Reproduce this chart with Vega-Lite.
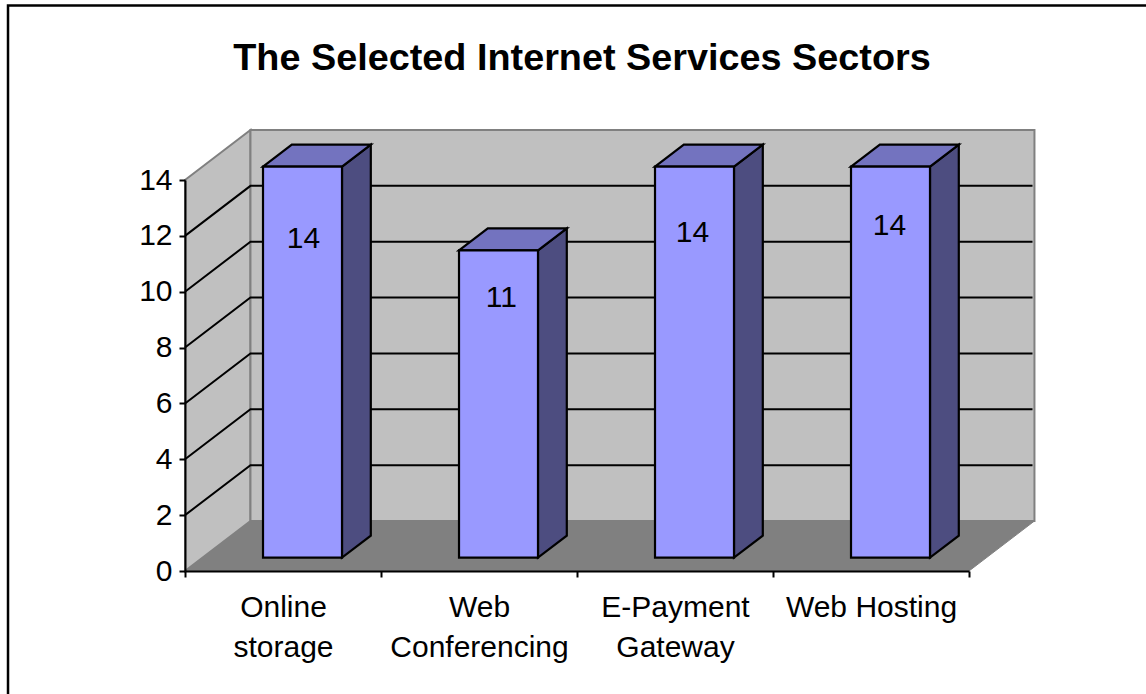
{
  "$schema": "https://vega.github.io/schema/vega-lite/v6.json",
  "width": 784,
  "height": 391,
  "autosize": "none",
  "padding": {"left": 185, "top": 180, "right": 177, "bottom": 123},
  "background": "white",
  "title": {
    "text": "The Selected Internet Services Sectors",
    "frame": "group",
    "anchor": "middle",
    "dx": 5,
    "offset": 0,
    "dy": 104,
    "baseline": "alphabetic",
    "font": "Liberation Sans",
    "fontWeight": "bold",
    "fontSize": 37.8,
    "color": "black"
  },
  "config": {"view": {"stroke": null}, "font": "Liberation Sans"},
  "params": [
    {"name": "depthX", "value": 0.334},
    {"name": "depthY", "value": 1.79},
    {"name": "barNear", "value": 0.268},
    {"name": "barFar", "value": 0.708},
    {"name": "barLeft", "value": 0.3085},
    {"name": "barWidth", "value": 0.403}
  ],
  "datasets": {
    "sectors": [
      {"sector": "Online storage", "value": 14},
      {"sector": "Web Conferencing", "value": 11},
      {"sector": "E-Payment Gateway", "value": 14},
      {"sector": "Web Hosting", "value": 14}
    ],
    "gridTicks": [{"tick": 2}, {"tick": 4}, {"tick": 6}, {"tick": 8}, {"tick": 10}, {"tick": 12}],
    "corners": [{"corner": 0}, {"corner": 1}, {"corner": 2}, {"corner": 3}],
    "edges": [{"depth": 0}, {"depth": 1}]
  },
  "encoding": {
    "x": {
      "type": "quantitative",
      "scale": {"domain": [0, 4], "nice": false, "zero": false},
      "axis": {
        "title": null,
        "orient": "bottom",
        "values": [0, 0.5, 1, 1.5, 2, 2.5, 3, 3.5, 4],
        "grid": false,
        "zindex": 1,
        "domainColor": "black",
        "domainWidth": 2,
        "tickColor": "black",
        "tickWidth": 2,
        "tickSize": {"condition": {"test": "datum.value % 1 === 0", "value": 6}, "value": 0},
        "labelExpr": "datum.value === 0.5 ? ['Online', 'storage'] : datum.value === 1.5 ? ['Web', 'Conferencing'] : datum.value === 2.5 ? ['E-Payment', 'Gateway'] : datum.value === 3.5 ? 'Web Hosting' : ''",
        "labelFont": "Liberation Sans",
        "labelFontSize": 30,
        "labelColor": "black",
        "labelPadding": 21,
        "labelLineHeight": 40,
        "labelOverlap": false,
        "labelBound": false,
        "labelFlush": false
      }
    },
    "y": {
      "type": "quantitative",
      "scale": {"domain": [0, 14], "nice": false, "zero": false},
      "stack": null,
      "axis": {
        "title": null,
        "orient": "left",
        "values": [0, 2, 4, 6, 8, 10, 12, 14],
        "grid": false,
        "zindex": 1,
        "domainColor": "black",
        "domainWidth": 2,
        "tickColor": "black",
        "tickWidth": 2,
        "tickSize": 6,
        "labelFont": "Liberation Sans",
        "labelFontSize": 30,
        "labelColor": "black",
        "labelPadding": 7,
        "labelOverlap": false,
        "labelBound": false,
        "labelFlush": false
      }
    }
  },
  "layer": [
    {
      "description": "Chart-area outline",
      "data": {"values": [{"side": "left"}]},
      "mark": {"type": "rect", "fill": null, "stroke": "black", "strokeWidth": 2.5, "clip": false},
      "encoding": {
        "x": {"datum": -0.903},
        "x2": {"datum": 5.1},
        "y": {"datum": 20.25},
        "y2": {"datum": -6}
      }
    },
    {
      "description": "Floor",
      "data": {"name": "corners"},
      "transform": [
        {"calculate": "[0, depthX, 4, 4 + depthX][datum.corner]", "as": "px"},
        {"calculate": "datum.corner === 0 ? 0 : depthY", "as": "top"},
        {"calculate": "datum.corner === 3 ? depthY : 0", "as": "bottom"}
      ],
      "mark": {"type": "area", "orient": "vertical", "fill": "#808080", "stroke": "#808080", "strokeWidth": 1},
      "encoding": {
        "x": {"field": "px", "type": "quantitative"},
        "y": {"field": "top", "type": "quantitative"},
        "y2": {"field": "bottom"}
      }
    },
    {
      "description": "Left wall",
      "data": {"name": "edges"},
      "transform": [
        {"calculate": "datum.depth * depthX", "as": "px"},
        {"calculate": "datum.depth * depthY", "as": "bottom"},
        {"calculate": "14 + datum.depth * depthY", "as": "top"}
      ],
      "mark": {"type": "area", "orient": "vertical", "fill": "#c0c0c0", "stroke": "#808080", "strokeWidth": 2},
      "encoding": {
        "x": {"field": "px", "type": "quantitative"},
        "y": {"field": "top", "type": "quantitative"},
        "y2": {"field": "bottom"}
      }
    },
    {
      "description": "Back wall",
      "data": {"name": "edges"},
      "transform": [
        {"calculate": "datum.depth * 4 + depthX", "as": "px"},
        {"calculate": "depthY", "as": "bottom"},
        {"calculate": "14 + depthY", "as": "top"}
      ],
      "mark": {"type": "area", "orient": "vertical", "fill": "#c0c0c0", "stroke": "#808080", "strokeWidth": 2},
      "encoding": {
        "x": {"field": "px", "type": "quantitative"},
        "y": {"field": "top", "type": "quantitative"},
        "y2": {"field": "bottom"}
      }
    },
    {
      "description": "Gridlines running across the left and back walls",
      "data": {"name": "gridTicks"},
      "transform": [
        {"calculate": "[0, 1, 2]", "as": "bend"},
        {"flatten": ["bend"]},
        {"calculate": "[0, depthX, 4 + depthX - 0.01][datum.bend]", "as": "px"},
        {"calculate": "datum.tick + (datum.bend === 0 ? 0 : depthY)", "as": "py"}
      ],
      "mark": {"type": "line", "stroke": "black", "strokeWidth": 2},
      "encoding": {
        "x": {"field": "px", "type": "quantitative"},
        "y": {"field": "py", "type": "quantitative"},
        "detail": {"field": "tick"}
      }
    },
    {
      "description": "Bar side faces",
      "data": {"name": "sectors"},
      "transform": [
        {"window": [{"op": "row_number", "as": "rank"}]},
        {"calculate": "[barNear, barFar]", "as": "depth"},
        {"flatten": ["depth"]},
        {"calculate": "datum.rank - 1 + barLeft + barWidth + datum.depth * depthX", "as": "px"},
        {"calculate": "datum.value + datum.depth * depthY", "as": "top"},
        {"calculate": "datum.depth * depthY", "as": "bottom"}
      ],
      "mark": {"type": "area", "orient": "vertical", "fill": "#4d4d80", "stroke": "black", "strokeWidth": 2.2, "strokeJoin": "miter"},
      "encoding": {
        "x": {"field": "px", "type": "quantitative"},
        "y": {"field": "top", "type": "quantitative"},
        "y2": {"field": "bottom"},
        "detail": {"field": "sector"}
      }
    },
    {
      "description": "Bar top faces",
      "data": {"name": "sectors"},
      "transform": [
        {"window": [{"op": "row_number", "as": "rank"}]},
        {"calculate": "[0, 1, 2, 3]", "as": "corner"},
        {"flatten": ["corner"]},
        {"calculate": "datum.rank - 1 + barLeft + [barNear * depthX, barFar * depthX, barWidth + barNear * depthX, barWidth + barFar * depthX][datum.corner]", "as": "px"},
        {"calculate": "datum.value + (datum.corner === 0 ? barNear : barFar) * depthY", "as": "top"},
        {"calculate": "datum.value + (datum.corner === 3 ? barFar : barNear) * depthY", "as": "bottom"}
      ],
      "mark": {"type": "area", "orient": "vertical", "fill": "#7373bf", "stroke": "black", "strokeWidth": 2.2, "strokeJoin": "miter"},
      "encoding": {
        "x": {"field": "px", "type": "quantitative"},
        "y": {"field": "top", "type": "quantitative"},
        "y2": {"field": "bottom"},
        "detail": {"field": "sector"}
      }
    },
    {
      "description": "Bar front faces",
      "data": {"name": "sectors"},
      "transform": [
        {"window": [{"op": "row_number", "as": "rank"}]},
        {"calculate": "datum.rank - 1 + barLeft + barNear * depthX", "as": "left"},
        {"calculate": "datum.left + barWidth", "as": "right"},
        {"calculate": "barNear * depthY", "as": "floorLevel"},
        {"calculate": "datum.value + datum.floorLevel", "as": "top"}
      ],
      "mark": {"type": "rect", "fill": "#9999ff", "stroke": "black", "strokeWidth": 2.2},
      "encoding": {
        "x": {"field": "left", "type": "quantitative"},
        "x2": {"field": "right"},
        "y": {"field": "top", "type": "quantitative"},
        "y2": {"field": "floorLevel"}
      }
    },
    {
      "description": "Value labels on the bars",
      "data": {"name": "sectors"},
      "transform": [
        {"window": [{"op": "row_number", "as": "rank"}]},
        {"calculate": "datum.rank - 1 + barLeft + barNear * depthX + barWidth / 2 + [0.005, 0.015, -0.01, -0.005][datum.rank - 1]", "as": "center"},
        {"calculate": "[11.89, 9.78, 12.1, 12.35][datum.rank - 1]", "as": "labelHeight"}
      ],
      "mark": {"type": "text", "font": "Liberation Sans", "fontSize": 30, "color": "black", "baseline": "middle", "align": "center"},
      "encoding": {
        "x": {"field": "center", "type": "quantitative"},
        "y": {"field": "labelHeight", "type": "quantitative"},
        "text": {"field": "value", "type": "quantitative"}
      }
    }
  ]
}
